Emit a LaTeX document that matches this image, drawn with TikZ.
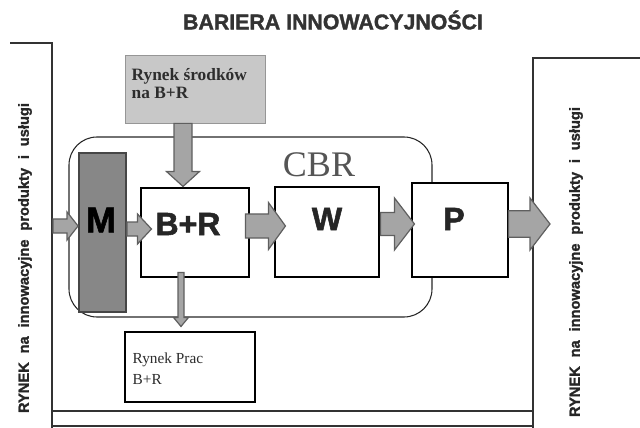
\documentclass[tikz,border=0pt]{standalone}
\usepackage{fontspec}
\setmainfont{Liberation Serif}
\newfontfamily\arialf[BoldFeatures={FakeBold=1.6}]{Liberation Sans}
\usetikzlibrary{calc}
\definecolor{arrowfill}{RGB}{165,165,165}
\definecolor{arrowline}{RGB}{95,95,95}
\definecolor{mfill}{RGB}{135,135,135}
\definecolor{mline}{RGB}{70,70,70}
\definecolor{gboxfill}{RGB}{200,200,200}
\definecolor{gboxline}{RGB}{150,150,150}
\definecolor{txtdark}{RGB}{45,45,45}
\definecolor{cbrtxt}{RGB}{85,85,85}
% horizontal block arrow: start, end, shaft half, head half, head length (pt)
\newcommand{\harrow}[5]{%
  \filldraw[blockarrow] let \p1=(#1), \p2=(#2) in
  (\x1,{\y1+#3}) -- ({\x2-#5},{\y1+#3}) -- ({\x2-#5},{\y1+#4}) -- (\x2,\y1)
  -- ({\x2-#5},{\y1-#4}) -- ({\x2-#5},{\y1-#3}) -- (\x1,{\y1-#3}) -- cycle;}
% downward block arrow
\newcommand{\varrow}[5]{%
  \filldraw[blockarrow] let \p1=(#1), \p2=(#2) in
  ({\x1-#3},\y1) -- ({\x1-#3},{\y2+#5}) -- ({\x1-#4},{\y2+#5}) -- (\x1,\y2)
  -- ({\x1+#4},{\y2+#5}) -- ({\x1+#3},{\y2+#5}) -- ({\x1+#3},\y1) -- cycle;}
\newcommand{\wgap}{\hspace{0.6em}}
\tikzset{
  blockarrow/.style={fill=arrowfill, draw=arrowline, line width=0.9pt, line join=miter},
  stagebox/.style={draw=black, fill=white, line width=0.8pt, inner sep=0pt},
  bigletter/.style={font=\arialf\bfseries\fontsize{24}{24}\selectfont, text=black!85},
  sidetext/.style={rotate=90, font=\arialf\bfseries\fontsize{11}{12}\selectfont, text=black!85},
  panelline/.style={draw=black!80, line width=0.8pt},
}
\begin{document}
\begin{tikzpicture}[x=0.75pt, y=-0.75pt]
\useasboundingbox (0,0) rectangle (640,428);

% title
\node[font=\arialf\bfseries\fontsize{16}{18}\selectfont, text=black!80] (title) at (333,20) {BARIERA INNOWACYJNOŚCI};

% side panels
\draw[panelline] (10,43) -- (52,43) -- (52,428);
\draw[panelline] (533,428) -- (533,58) -- (640,58);
\draw[panelline] (52,411) -- (533,411);
\draw[panelline] (52,426) -- (533,426);
\node[sidetext] (leftmarket) at (25,258) {RYNEK\wgap na\wgap innowacyjne\wgap produkty\wgap i\wgap usługi};
\node[sidetext] (rightmarket) at (576,262) {RYNEK\wgap na\wgap innowacyjne\wgap produkty\wgap i\wgap usługi};

% CBR frame
\node[draw=black!85, line width=0.8pt, rounded corners=21pt, minimum width=272.25pt, minimum height=135pt, inner sep=0pt] (CBR) at (250.5,227) {};
\node[font=\fontsize{27}{27}\selectfont, text=cbrtxt] (CBRlabel) at (319,165) {CBR};

% top grey box
\node[draw=gboxline, fill=gboxfill, line width=0.6pt, minimum width=105pt, minimum height=51pt, inner sep=0pt] (G) at (195,89) {};
\node[anchor=west, align=left, font=\bfseries\fontsize{13}{13.5}\selectfont, text=txtdark] (Gtext) at (127,84) {Rynek środków\\na B+R};

% M box
\node[draw=mline, fill=mfill, line width=1.4pt, minimum width=35.25pt, minimum height=119.25pt, inner sep=0pt] (M) at (102.5,232.5) {};
\node[font=\arialf\bfseries\fontsize{27}{27}\selectfont, text=black] (Mt) at (101,220) {M};

% stage boxes
\node[stagebox, minimum width=81pt, minimum height=66.75pt] (BR) at (195,232.5) {};
\node[bigletter] (BRt) at (188,224) {B+R};
\node[stagebox, minimum width=78pt, minimum height=67.5pt] (W) at (327,232) {};
\node[bigletter] (Wt) at (327,219) {W};
\node[stagebox, minimum width=72pt, minimum height=70.5pt] (P) at (460,230) {};
\node[bigletter] (Pt) at (454,219) {P};

% Rynek Prac box
\node[stagebox, minimum width=97.5pt, minimum height=52.5pt] (RP) at (190,367) {};
\node[anchor=west, align=left, font=\fontsize{11.5}{15.75}\selectfont, text=txtdark] (RPt) at (128,369) {Rynek Prac\\B+R};

% connectors
\coordinate (Lin) at (53,226);
\coordinate (Pout) at (550,224);
\harrow{Lin}{$(M.west)+(0,-6.5)$}{5.25pt}{10.5pt}{8.25pt}
\harrow{$(M.east)+(0,-3.5)$}{$(BR.west)+(11,-3.5)$}{5.25pt}{11.25pt}{10.5pt}
\harrow{$(BR.east)+(-4,-6.5)$}{$(W.west)+(11,-6)$}{9pt}{17.6pt}{12.75pt}
\harrow{$(W.east)+(1,-8)$}{$(P.west)+(3,-6)$}{8.6pt}{19.5pt}{15pt}
\harrow{$(P.east)+(0,-6)$}{Pout}{10pt}{19.5pt}{15pt}
\varrow{$(G.south)+(-12,0)$}{$(BR.north)+(-12,-1)$}{6.75pt}{12.4pt}{11.25pt}
\varrow{$(BR.south)+(-14,-5)$}{$(RP.north)+(-9,-5)$}{2.25pt}{5.6pt}{6.75pt}
\end{tikzpicture}
\end{document}
